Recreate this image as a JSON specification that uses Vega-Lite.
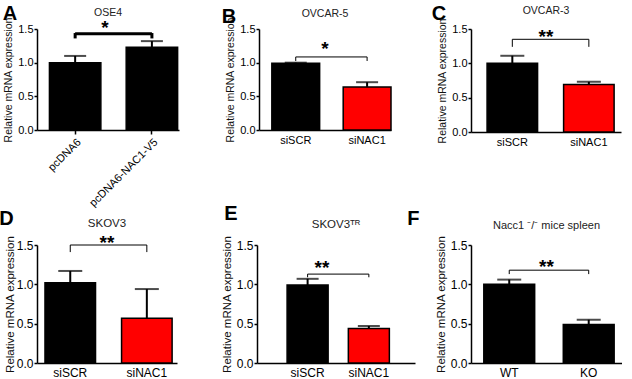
{
  "$schema": "https://vega.github.io/schema/vega-lite/v6.json",
  "background": "white",
  "padding": {"left": -1, "top": 3, "right": 0, "bottom": 0},
  "config": {
    "font": "Liberation Sans",
    "view": {"stroke": null},
    "axis": {"domainColor": "black", "domainWidth": 1.5, "tickColor": "black", "tickWidth": 1.5, "labelColor": "black", "titleColor": "#111", "grid": false, "titleFontWeight": "normal", "labelFont": "Liberation Sans", "titleFont": "Liberation Sans"},
    "axisX": {"ticks": false, "labelPadding": 4, "title": null},
    "axisY": {"tickSize": 3, "labelPadding": 1, "titlePadding": 4, "labelOverlap": false, "labelFlush": false},
    "title": {"font": "Liberation Sans", "fontSize": 20, "fontWeight": "bold", "anchor": "start", "color": "black"}
  },
  "datasets": {
    "bars": [
      {"panel": "A", "group": "pcDNA6", "mean": 1.0, "upper": 1.1},
      {"panel": "A", "group": "pcDNA6-NAC1-V5", "mean": 1.23, "upper": 1.32},
      {"panel": "B", "group": "siSCR", "mean": 0.99, "upper": 1.0},
      {"panel": "B", "group": "siNAC1", "mean": 0.64, "upper": 0.71},
      {"panel": "C", "group": "siSCR", "mean": 1.0, "upper": 1.11},
      {"panel": "C", "group": "siNAC1", "mean": 0.69, "upper": 0.73},
      {"panel": "D", "group": "siSCR", "mean": 1.02, "upper": 1.17},
      {"panel": "D", "group": "siNAC1", "mean": 0.57, "upper": 0.94},
      {"panel": "E", "group": "siSCR", "mean": 0.99, "upper": 1.07},
      {"panel": "E", "group": "siNAC1", "mean": 0.44, "upper": 0.47},
      {"panel": "F", "group": "WT", "mean": 1.0, "upper": 1.06},
      {"panel": "F", "group": "KO", "mean": 0.49, "upper": 0.55}
    ],
    "notes": [
      {"panel": "A", "title": "OSE4", "stars": "*"},
      {"panel": "B", "title": "OVCAR-5", "stars": "*"},
      {"panel": "C", "title": "OVCAR-3", "stars": "**"},
      {"panel": "D", "title": "SKOV3", "stars": "**"},
      {"panel": "E", "title": "SKOV3ᵀᴿ", "stars": "**"},
      {"panel": "F", "title": "Nacc1 ⁻/⁻ mice spleen", "stars": "**"}
    ]
  },
  "bounds": "flush",
  "spacing": 216,
  "vconcat": [
    {
      "bounds": "flush",
      "spacing": 80,
      "hconcat": [
        {
          "width": 142, "height": 101,
          "title": {"text": "A", "dx": -1, "offset": -16},
          "resolve": {"scale": {"y": "independent"}, "axis": {"y": "independent"}},
          "layer": [
            {"data": {"name": "bars"}, "transform": [{"filter": "datum.panel==='A'"}],
             "mark": {"type": "bar", "stroke": "black", "strokeWidth": 1.5},
             "encoding": {
               "x": {"field": "group", "type": "nominal", "scale": {"domain": ["pcDNA6", "pcDNA6-NAC1-V5"], "paddingInner": 0.33, "paddingOuter": 0.09, "align": 0.9}, "axis": {"labelAngle": -45, "labelFontSize": 11, "ticks": true, "tickSize": 4, "labelPadding": 2}},
               "y": {"field": "mean", "type": "quantitative", "scale": {"domain": [0, 1.5]}, "axis": {"title": "Relative mRNA expression", "values": [0, 0.5, 1, 1.5], "format": ".1f", "labelFontSize": 11, "titleFontSize": 10.5}},
               "fill": {"field": "group", "type": "nominal", "scale": {"domain": ["pcDNA6", "pcDNA6-NAC1-V5", "siSCR", "siNAC1", "WT", "KO"], "range": ["black", "black", "black", "#ff0000", "black", "black"]}, "legend": null}
             }},
            {"data": {"name": "bars"}, "transform": [{"filter": "datum.panel==='A'"}],
             "mark": {"type": "rule", "strokeWidth": 2, "color": "black"},
             "encoding": {"x": {"field": "group", "type": "nominal", "scale": {"domain": ["pcDNA6", "pcDNA6-NAC1-V5"]}}, "y": {"field": "mean", "type": "quantitative", "scale": {"domain": [0, 1.5]}, "axis": null}, "y2": {"field": "upper"}}},
            {"data": {"name": "bars"}, "transform": [{"filter": "datum.panel==='A'"}],
             "mark": {"type": "tick", "color": "black", "thickness": 2, "size": 22},
             "encoding": {"x": {"field": "group", "type": "nominal", "scale": {"domain": ["pcDNA6", "pcDNA6-NAC1-V5"]}}, "y": {"field": "upper", "type": "quantitative", "scale": {"domain": [0, 1.5]}, "axis": null}}},
            {"data": {"name": "bars"}, "transform": [{"filter": "datum.panel==='A'"}],
             "mark": {"type": "rule", "strokeWidth": 3, "color": "black"},
             "encoding": {"x": {"field": "group", "type": "nominal", "scale": {"domain": ["pcDNA6", "pcDNA6-NAC1-V5"]}}, "y": {"datum": 1.44, "scale": {"domain": [0, 1.5]}, "axis": null}, "y2": {"datum": 1.36}}},
            {"data": {"name": "notes"}, "transform": [{"filter": "datum.panel==='A'"}],
             "mark": {"type": "rule", "strokeWidth": 3, "color": "black"},
             "encoding": {"x": {"datum": "pcDNA6", "type": "nominal", "scale": {"domain": ["pcDNA6", "pcDNA6-NAC1-V5"]}}, "x2": {"datum": "pcDNA6-NAC1-V5"}, "y": {"datum": 1.43, "scale": {"domain": [0, 1.5]}, "axis": null}}},
            {"data": {"name": "notes"}, "transform": [{"filter": "datum.panel==='A'"}],
             "mark": {"type": "text", "fontSize": 10.5, "color": "#222"},
             "encoding": {"y": {"datum": 1.74, "scale": {"domain": [0, 1.5]}, "axis": null}, "text": {"field": "title"}}},
            {"data": {"name": "notes"}, "transform": [{"filter": "datum.panel==='A'"}],
             "mark": {"type": "text", "fontSize": 19, "fontWeight": "bold", "baseline": "middle", "dy": 4, "dx": -3},
             "encoding": {"y": {"datum": 1.57, "scale": {"domain": [0, 1.5]}, "axis": null}, "text": {"field": "stars"}}}
          ]
        },
        {
          "width": 132, "height": 101,
          "title": {"text": "B", "dx": -4, "offset": -18},
          "resolve": {"scale": {"y": "independent"}, "axis": {"y": "independent"}},
          "layer": [
            {"data": {"name": "bars"}, "transform": [{"filter": "datum.panel==='B'"}],
             "mark": {"type": "bar", "stroke": "black", "strokeWidth": 1.5},
             "encoding": {
               "x": {"field": "group", "type": "nominal", "scale": {"domain": ["siSCR", "siNAC1"], "paddingInner": 0.33, "paddingOuter": 0.09, "align": 1}, "axis": {"labelAngle": 0, "labelFontSize": 11}},
               "y": {"field": "mean", "type": "quantitative", "scale": {"domain": [0, 1.5]}, "axis": {"title": "Relative mRNA expression", "values": [0, 0.5, 1, 1.5], "format": ".1f", "labelFontSize": 11, "titleFontSize": 10.5}},
               "fill": {"field": "group", "type": "nominal", "scale": {"domain": ["pcDNA6", "pcDNA6-NAC1-V5", "siSCR", "siNAC1", "WT", "KO"], "range": ["black", "black", "black", "#ff0000", "black", "black"]}, "legend": null}
             }},
            {"data": {"name": "bars"}, "transform": [{"filter": "datum.panel==='B'"}],
             "mark": {"type": "rule", "strokeWidth": 2, "color": "black"},
             "encoding": {"x": {"field": "group", "type": "nominal", "scale": {"domain": ["siSCR", "siNAC1"]}}, "y": {"field": "mean", "type": "quantitative", "scale": {"domain": [0, 1.5]}, "axis": null}, "y2": {"field": "upper"}}},
            {"data": {"name": "bars"}, "transform": [{"filter": "datum.panel==='B'"}],
             "mark": {"type": "tick", "color": "black", "thickness": 2, "size": 22},
             "encoding": {"x": {"field": "group", "type": "nominal", "scale": {"domain": ["siSCR", "siNAC1"]}}, "y": {"field": "upper", "type": "quantitative", "scale": {"domain": [0, 1.5]}, "axis": null}}},
            {"data": {"name": "bars"}, "transform": [{"filter": "datum.panel==='B'"}],
             "mark": {"type": "rule", "strokeWidth": 1, "color": "black"},
             "encoding": {"x": {"field": "group", "type": "nominal", "scale": {"domain": ["siSCR", "siNAC1"]}}, "y": {"datum": 1.085, "scale": {"domain": [0, 1.5]}, "axis": null}, "y2": {"datum": 1.025}}},
            {"data": {"name": "notes"}, "transform": [{"filter": "datum.panel==='B'"}],
             "mark": {"type": "rule", "strokeWidth": 1, "color": "black"},
             "encoding": {"x": {"datum": "siSCR", "type": "nominal", "scale": {"domain": ["siSCR", "siNAC1"]}}, "x2": {"datum": "siNAC1"}, "y": {"datum": 1.085, "scale": {"domain": [0, 1.5]}, "axis": null}}},
            {"data": {"name": "notes"}, "transform": [{"filter": "datum.panel==='B'"}],
             "mark": {"type": "text", "fontSize": 10.5, "color": "#222"},
             "encoding": {"y": {"datum": 1.72, "scale": {"domain": [0, 1.5]}, "axis": null}, "text": {"field": "title"}}},
            {"data": {"name": "notes"}, "transform": [{"filter": "datum.panel==='B'"}],
             "mark": {"type": "text", "fontSize": 19, "fontWeight": "bold", "baseline": "middle", "dy": 4},
             "encoding": {"y": {"datum": 1.26, "scale": {"domain": [0, 1.5]}, "axis": null}, "text": {"field": "stars"}}}
          ]
        },
        {
          "width": 150, "height": 103,
          "title": {"text": "C", "dx": -6, "offset": -18},
          "resolve": {"scale": {"y": "independent"}, "axis": {"y": "independent"}},
          "layer": [
            {"data": {"name": "bars"}, "transform": [{"filter": "datum.panel==='C'"}],
             "mark": {"type": "bar", "stroke": "black", "strokeWidth": 1.5},
             "encoding": {
               "x": {"field": "group", "type": "nominal", "scale": {"domain": ["siSCR", "siNAC1"], "paddingInner": 0.34, "paddingOuter": 0.15, "align": 0.7}, "axis": {"labelAngle": 0, "labelFontSize": 11}},
               "y": {"field": "mean", "type": "quantitative", "scale": {"domain": [0, 1.5]}, "axis": {"title": "Relative mRNA expression", "values": [0, 0.5, 1, 1.5], "format": ".1f", "labelFontSize": 11, "titleFontSize": 10.5}},
               "fill": {"field": "group", "type": "nominal", "scale": {"domain": ["pcDNA6", "pcDNA6-NAC1-V5", "siSCR", "siNAC1", "WT", "KO"], "range": ["black", "black", "black", "#ff0000", "black", "black"]}, "legend": null}
             }},
            {"data": {"name": "bars"}, "transform": [{"filter": "datum.panel==='C'"}],
             "mark": {"type": "rule", "strokeWidth": 2, "color": "black"},
             "encoding": {"x": {"field": "group", "type": "nominal", "scale": {"domain": ["siSCR", "siNAC1"]}}, "y": {"field": "mean", "type": "quantitative", "scale": {"domain": [0, 1.5]}, "axis": null}, "y2": {"field": "upper"}}},
            {"data": {"name": "bars"}, "transform": [{"filter": "datum.panel==='C'"}],
             "mark": {"type": "tick", "color": "black", "thickness": 2, "size": 24},
             "encoding": {"x": {"field": "group", "type": "nominal", "scale": {"domain": ["siSCR", "siNAC1"]}}, "y": {"field": "upper", "type": "quantitative", "scale": {"domain": [0, 1.5]}, "axis": null}}},
            {"data": {"name": "bars"}, "transform": [{"filter": "datum.panel==='C'"}],
             "mark": {"type": "rule", "strokeWidth": 1, "color": "black"},
             "encoding": {"x": {"field": "group", "type": "nominal", "scale": {"domain": ["siSCR", "siNAC1"]}}, "y": {"datum": 1.35, "scale": {"domain": [0, 1.5]}, "axis": null}, "y2": {"datum": 1.24}}},
            {"data": {"name": "notes"}, "transform": [{"filter": "datum.panel==='C'"}],
             "mark": {"type": "rule", "strokeWidth": 1, "color": "black"},
             "encoding": {"x": {"datum": "siSCR", "type": "nominal", "scale": {"domain": ["siSCR", "siNAC1"]}}, "x2": {"datum": "siNAC1"}, "y": {"datum": 1.35, "scale": {"domain": [0, 1.5]}, "axis": null}}},
            {"data": {"name": "notes"}, "transform": [{"filter": "datum.panel==='C'"}],
             "mark": {"type": "text", "fontSize": 10.5, "color": "#222"},
             "encoding": {"y": {"datum": 1.76, "scale": {"domain": [0, 1.5]}, "axis": null}, "text": {"field": "title"}}},
            {"data": {"name": "notes"}, "transform": [{"filter": "datum.panel==='C'"}],
             "mark": {"type": "text", "fontSize": 19, "fontWeight": "bold", "baseline": "middle", "dy": 4},
             "encoding": {"y": {"datum": 1.44, "scale": {"domain": [0, 1.5]}, "axis": null}, "text": {"field": "stars"}}}
          ]
        }
      ]
    },
    {
      "bounds": "flush",
      "spacing": 80,
      "hconcat": [
        {
          "width": 140, "height": 118,
          "title": {"text": "D", "dx": -5, "offset": -11},
          "resolve": {"scale": {"y": "independent"}, "axis": {"y": "independent"}},
          "layer": [
            {"data": {"name": "bars"}, "transform": [{"filter": "datum.panel==='D'"}],
             "mark": {"type": "bar", "stroke": "black", "strokeWidth": 1.5},
             "encoding": {
               "x": {"field": "group", "type": "nominal", "scale": {"domain": ["siSCR", "siNAC1"], "paddingInner": 0.34, "paddingOuter": 0.084, "align": 0.62}, "axis": {"labelAngle": 0, "labelFontSize": 12}},
               "y": {"field": "mean", "type": "quantitative", "scale": {"domain": [0, 1.5]}, "axis": {"title": "Relative mRNA expression", "values": [0, 0.5, 1, 1.5], "format": ".1f", "labelFontSize": 12, "titleFontSize": 11.5, "titlePadding": 1}},
               "fill": {"field": "group", "type": "nominal", "scale": {"domain": ["pcDNA6", "pcDNA6-NAC1-V5", "siSCR", "siNAC1", "WT", "KO"], "range": ["black", "black", "black", "#ff0000", "black", "black"]}, "legend": null}
             }},
            {"data": {"name": "bars"}, "transform": [{"filter": "datum.panel==='D'"}],
             "mark": {"type": "rule", "strokeWidth": 2, "color": "black"},
             "encoding": {"x": {"field": "group", "type": "nominal", "scale": {"domain": ["siSCR", "siNAC1"]}}, "y": {"field": "mean", "type": "quantitative", "scale": {"domain": [0, 1.5]}, "axis": null}, "y2": {"field": "upper"}}},
            {"data": {"name": "bars"}, "transform": [{"filter": "datum.panel==='D'"}],
             "mark": {"type": "tick", "color": "black", "thickness": 2, "size": 24},
             "encoding": {"x": {"field": "group", "type": "nominal", "scale": {"domain": ["siSCR", "siNAC1"]}}, "y": {"field": "upper", "type": "quantitative", "scale": {"domain": [0, 1.5]}, "axis": null}}},
            {"data": {"name": "bars"}, "transform": [{"filter": "datum.panel==='D'"}],
             "mark": {"type": "rule", "strokeWidth": 1, "color": "black"},
             "encoding": {"x": {"field": "group", "type": "nominal", "scale": {"domain": ["siSCR", "siNAC1"]}}, "y": {"datum": 1.5, "scale": {"domain": [0, 1.5]}, "axis": null}, "y2": {"datum": 1.41}}},
            {"data": {"name": "notes"}, "transform": [{"filter": "datum.panel==='D'"}],
             "mark": {"type": "rule", "strokeWidth": 1, "color": "black"},
             "encoding": {"x": {"datum": "siSCR", "type": "nominal", "scale": {"domain": ["siSCR", "siNAC1"]}}, "x2": {"datum": "siNAC1"}, "y": {"datum": 1.5, "scale": {"domain": [0, 1.5]}, "axis": null}}},
            {"data": {"name": "notes"}, "transform": [{"filter": "datum.panel==='D'"}],
             "mark": {"type": "text", "fontSize": 11.5, "color": "#222"},
             "encoding": {"y": {"datum": 1.77, "scale": {"domain": [0, 1.5]}, "axis": null}, "text": {"field": "title"}}},
            {"data": {"name": "notes"}, "transform": [{"filter": "datum.panel==='D'"}],
             "mark": {"type": "text", "fontSize": 19, "fontWeight": "bold", "baseline": "middle", "dy": 4},
             "encoding": {"y": {"datum": 1.58, "scale": {"domain": [0, 1.5]}, "axis": null}, "text": {"field": "stars"}}}
          ]
        },
        {
          "bounds": "flush",
          "spacing": 56,
          "hconcat": [
            {
              "width": 158, "height": 118,
              "title": {"text": "E", "dx": 3, "offset": -5},
              "resolve": {"scale": {"y": "independent"}, "axis": {"y": "independent"}},
              "layer": [
                {"data": {"name": "bars"}, "transform": [{"filter": "datum.panel==='E'"}],
                 "mark": {"type": "bar", "stroke": "black", "strokeWidth": 1.5},
                 "encoding": {
                   "x": {"field": "group", "type": "nominal", "scale": {"domain": ["siSCR", "siNAC1"], "paddingInner": 0.33, "paddingOuter": 0.455, "align": 0.54}, "axis": {"labelAngle": 0, "labelFontSize": 12}},
                   "y": {"field": "mean", "type": "quantitative", "scale": {"domain": [0, 1.5]}, "axis": {"title": "Relative mRNA expression", "values": [0, 0.5, 1, 1.5], "format": ".1f", "labelFontSize": 12, "titleFontSize": 11.5}},
                   "fill": {"field": "group", "type": "nominal", "scale": {"domain": ["pcDNA6", "pcDNA6-NAC1-V5", "siSCR", "siNAC1", "WT", "KO"], "range": ["black", "black", "black", "#ff0000", "black", "black"]}, "legend": null}
                 }},
                {"data": {"name": "bars"}, "transform": [{"filter": "datum.panel==='E'"}],
                 "mark": {"type": "rule", "strokeWidth": 2, "color": "black"},
                 "encoding": {"x": {"field": "group", "type": "nominal", "scale": {"domain": ["siSCR", "siNAC1"]}}, "y": {"field": "mean", "type": "quantitative", "scale": {"domain": [0, 1.5]}, "axis": null}, "y2": {"field": "upper"}}},
                {"data": {"name": "bars"}, "transform": [{"filter": "datum.panel==='E'"}],
                 "mark": {"type": "tick", "color": "black", "thickness": 2, "size": 22},
                 "encoding": {"x": {"field": "group", "type": "nominal", "scale": {"domain": ["siSCR", "siNAC1"]}}, "y": {"field": "upper", "type": "quantitative", "scale": {"domain": [0, 1.5]}, "axis": null}}},
                {"data": {"name": "bars"}, "transform": [{"filter": "datum.panel==='E'"}],
                 "mark": {"type": "rule", "strokeWidth": 1, "color": "black"},
                 "encoding": {"x": {"field": "group", "type": "nominal", "scale": {"domain": ["siSCR", "siNAC1"]}}, "y": {"datum": 1.13, "scale": {"domain": [0, 1.5]}, "axis": null}, "y2": {"datum": 1.09}}},
                {"data": {"name": "notes"}, "transform": [{"filter": "datum.panel==='E'"}],
                 "mark": {"type": "rule", "strokeWidth": 1, "color": "black"},
                 "encoding": {"x": {"datum": "siSCR", "type": "nominal", "scale": {"domain": ["siSCR", "siNAC1"]}}, "x2": {"datum": "siNAC1"}, "y": {"datum": 1.13, "scale": {"domain": [0, 1.5]}, "axis": null}}},
                {"data": {"name": "notes"}, "transform": [{"filter": "datum.panel==='E'"}],
                 "mark": {"type": "text", "fontSize": 11.5, "color": "#222"},
                 "encoding": {"y": {"datum": 1.75, "scale": {"domain": [0, 1.5]}, "axis": null}, "text": {"field": "title"}}},
                {"data": {"name": "notes"}, "transform": [{"filter": "datum.panel==='E'"}],
                 "mark": {"type": "text", "fontSize": 19, "fontWeight": "bold", "baseline": "middle", "dy": 4, "dx": -14},
                 "encoding": {"y": {"datum": 1.26, "scale": {"domain": [0, 1.5]}, "axis": null}, "text": {"field": "stars"}}}
              ]
            },
            {
              "width": 151, "height": 118,
              "title": {"text": "F", "dx": -28, "offset": -9},
              "resolve": {"scale": {"y": "independent"}, "axis": {"y": "independent"}},
              "layer": [
                {"data": {"name": "bars"}, "transform": [{"filter": "datum.panel==='F'"}],
                 "mark": {"type": "bar", "stroke": "black", "strokeWidth": 1.5},
                 "encoding": {
                   "x": {"field": "group", "type": "nominal", "scale": {"domain": ["WT", "KO"], "paddingInner": 0.36, "paddingOuter": 0.13, "align": 0.62}, "axis": {"labelAngle": 0, "labelFontSize": 12}},
                   "y": {"field": "mean", "type": "quantitative", "scale": {"domain": [0, 1.5]}, "axis": {"title": "Relative mRNA expression", "values": [0, 0.5, 1, 1.5], "format": ".1f", "labelFontSize": 12, "titleFontSize": 11.5}},
                   "fill": {"field": "group", "type": "nominal", "scale": {"domain": ["pcDNA6", "pcDNA6-NAC1-V5", "siSCR", "siNAC1", "WT", "KO"], "range": ["black", "black", "black", "#ff0000", "black", "black"]}, "legend": null}
                 }},
                {"data": {"name": "bars"}, "transform": [{"filter": "datum.panel==='F'"}],
                 "mark": {"type": "rule", "strokeWidth": 2, "color": "black"},
                 "encoding": {"x": {"field": "group", "type": "nominal", "scale": {"domain": ["WT", "KO"]}}, "y": {"field": "mean", "type": "quantitative", "scale": {"domain": [0, 1.5]}, "axis": null}, "y2": {"field": "upper"}}},
                {"data": {"name": "bars"}, "transform": [{"filter": "datum.panel==='F'"}],
                 "mark": {"type": "tick", "color": "black", "thickness": 2, "size": 24},
                 "encoding": {"x": {"field": "group", "type": "nominal", "scale": {"domain": ["WT", "KO"]}}, "y": {"field": "upper", "type": "quantitative", "scale": {"domain": [0, 1.5]}, "axis": null}}},
                {"data": {"name": "bars"}, "transform": [{"filter": "datum.panel==='F'"}],
                 "mark": {"type": "rule", "strokeWidth": 1, "color": "black"},
                 "encoding": {"x": {"field": "group", "type": "nominal", "scale": {"domain": ["WT", "KO"]}}, "y": {"datum": 1.18, "scale": {"domain": [0, 1.5]}, "axis": null}, "y2": {"datum": 1.13}}},
                {"data": {"name": "notes"}, "transform": [{"filter": "datum.panel==='F'"}],
                 "mark": {"type": "rule", "strokeWidth": 1, "color": "black"},
                 "encoding": {"x": {"datum": "WT", "type": "nominal", "scale": {"domain": ["WT", "KO"]}}, "x2": {"datum": "KO"}, "y": {"datum": 1.18, "scale": {"domain": [0, 1.5]}, "axis": null}}},
                {"data": {"name": "notes"}, "transform": [{"filter": "datum.panel==='F'"}],
                 "mark": {"type": "text", "fontSize": 11, "color": "#222"},
                 "encoding": {"y": {"datum": 1.74, "scale": {"domain": [0, 1.5]}, "axis": null}, "text": {"field": "title"}}},
                {"data": {"name": "notes"}, "transform": [{"filter": "datum.panel==='F'"}],
                 "mark": {"type": "text", "fontSize": 19, "fontWeight": "bold", "baseline": "middle", "dy": 4},
                 "encoding": {"y": {"datum": 1.27, "scale": {"domain": [0, 1.5]}, "axis": null}, "text": {"field": "stars"}}}
              ]
            }
          ]
        }
      ]
    }
  ]
}
